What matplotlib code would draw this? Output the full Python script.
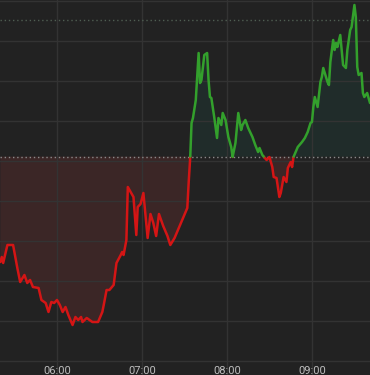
import numpy as np
import matplotlib
matplotlib.use("Agg")
import matplotlib.pyplot as plt
from matplotlib.transforms import blended_transform_factory

plt.rcParams['font.family'] = ['Roboto', 'DejaVu Sans']

# minutes after 05:00
minutes = [20, 21, 22, 25, 29, 32, 34, 37, 39, 41, 43, 47, 49, 52, 54, 56, 58, 60,
           62, 64, 66, 68, 71, 73, 75, 77, 78, 81, 83, 85, 89, 92, 93, 95, 97, 100,
           102, 105, 106, 107, 109, 110, 112, 114, 116, 117, 119, 121, 124, 126, 128,
           130, 132, 135, 138, 140, 143, 146, 149, 152, 153, 154, 155, 156, 158, 160,
           161, 162, 164, 166, 167, 168, 169, 171, 173, 174, 176, 177, 179, 181, 183,
           184, 186, 188, 190, 191, 193, 195, 198, 200, 202, 203, 205, 208, 210, 212,
           213, 215, 217, 218, 220, 222, 223, 225, 226, 227, 230, 233, 235, 237, 239,
           240, 241, 242, 244, 246, 247, 248, 251, 252, 253, 255, 256, 257, 258, 260,
           261, 262, 264, 265, 267, 268, 270, 271, 272, 273, 275, 276, 277, 279, 281]
values = [24.75, 26, 24.5, 29, 29, 23.25, 19.75, 21.5, 19.5, 20.25, 18.5, 18.25, 15.25,
          14.5, 12.25, 14.75, 14.5, 15.25, 14, 12.25, 13.5, 11.5, 9, 11, 10.25, 11, 9.75,
          10.75, 10.25, 9.75, 9.75, 12.25, 14, 17.75, 17.75, 19, 24.5, 26.5, 27.25, 26.5,
          30.25, 43.5, 42.25, 41, 31.5, 38.5, 39.25, 42, 30.75, 36.75, 34.5, 31.25, 36.75,
          33.75, 31.25, 29, 30.75, 33.25, 35.75, 38.25, 44.75, 50.25, 59.5, 60.75, 65.25,
          77, 69.5, 70.25, 76.5, 77, 70.25, 66, 65.75, 61, 55.75, 60.75, 59, 62, 60.25,
          56, 53.5, 51, 54.5, 62, 57.75, 59, 60.25, 58.25, 56, 54, 52.25, 53.25, 51.5,
          50.25, 51, 48.5, 46, 45.75, 41, 42, 46, 44.75, 48.25, 49.75, 48.5, 51, 53.5,
          54.75, 55.75, 57.25, 59.5, 59.75, 63.5, 66, 63.5, 69.75, 71, 73.25, 69.75, 69,
          74.75, 80.25, 77.75, 79.5, 78.5, 81.5, 77.75, 74, 73.25, 77.75, 82.75, 83.5,
          89, 86, 73.5, 71.5, 72, 67, 66, 67, 64.5]
prev_close = 51.1
day_high = 85.25
hour_ticks = [60, 120, 180, 240]
hour_labels = ["06:00", "07:00", "08:00", "09:00"]

bg = '#222222'
red = '#d41515'
green = '#33a02c'

t = np.array(minutes, dtype=float)
v = np.array(values, dtype=float)

# insert baseline crossings so the colour switches exactly at prev_close
xs, ys = [t[0]], [v[0]]
for i in range(len(t) - 1):
    a, b = v[i] - prev_close, v[i + 1] - prev_close
    if a * b < 0:
        f = a / (a - b)
        xs.append(t[i] + f * (t[i + 1] - t[i]))
        ys.append(prev_close)
    xs.append(t[i + 1])
    ys.append(v[i + 1])
xs, ys = np.array(xs), np.array(ys)

fig = plt.figure(figsize=(3.7, 3.75), dpi=100, facecolor=bg)
ax = fig.add_axes([0, 0, 1, 1], facecolor=bg)

ax.fill_between(xs, ys, prev_close, where=ys <= prev_close, color=(0.8, 0.24, 0.26),
                alpha=0.15, lw=0, zorder=1)
ax.fill_between(xs, ys, prev_close, where=ys >= prev_close, color=(0.05, 0.65, 0.55),
                alpha=0.08, lw=0, zorder=1)

ax.plot(xs, np.where(ys <= prev_close, ys, np.nan), color=red, lw=1.8, zorder=4,
        solid_joinstyle='round', solid_capstyle='round')
ax.plot(xs, np.where(ys >= prev_close, ys, np.nan), color=green, lw=1.8, zorder=4,
        solid_joinstyle='round', solid_capstyle='round')

ax.axhline(prev_close, color='#8a8a8a', lw=1, ls=(0, (1, 2)), zorder=3)
ax.axhline(day_high, color='#4f5e52', lw=1, ls=(0, (1, 2)), zorder=3)

ax.set_xlim(19.76, 281.0)
ax.set_ylim(-3.5, 90.25)
ax.set_xticks(hour_ticks)
ax.set_yticks(np.arange(0, 100, 10))
ax.grid(True, color='#333333', lw=1, zorder=2)
ax.set_axisbelow(False)
ax.tick_params(length=0, labelbottom=False, labelleft=False)
for s in ax.spines.values():
    s.set_visible(False)

tr = blended_transform_factory(ax.transData, ax.transAxes)
for m, lab in zip(hour_ticks, hour_labels):
    ax.text(m, 0.004, lab, transform=tr, ha='center', va='baseline',
            color='#bdbdbd', fontsize=8)

fig.savefig('out.png', dpi=100, facecolor=bg)
